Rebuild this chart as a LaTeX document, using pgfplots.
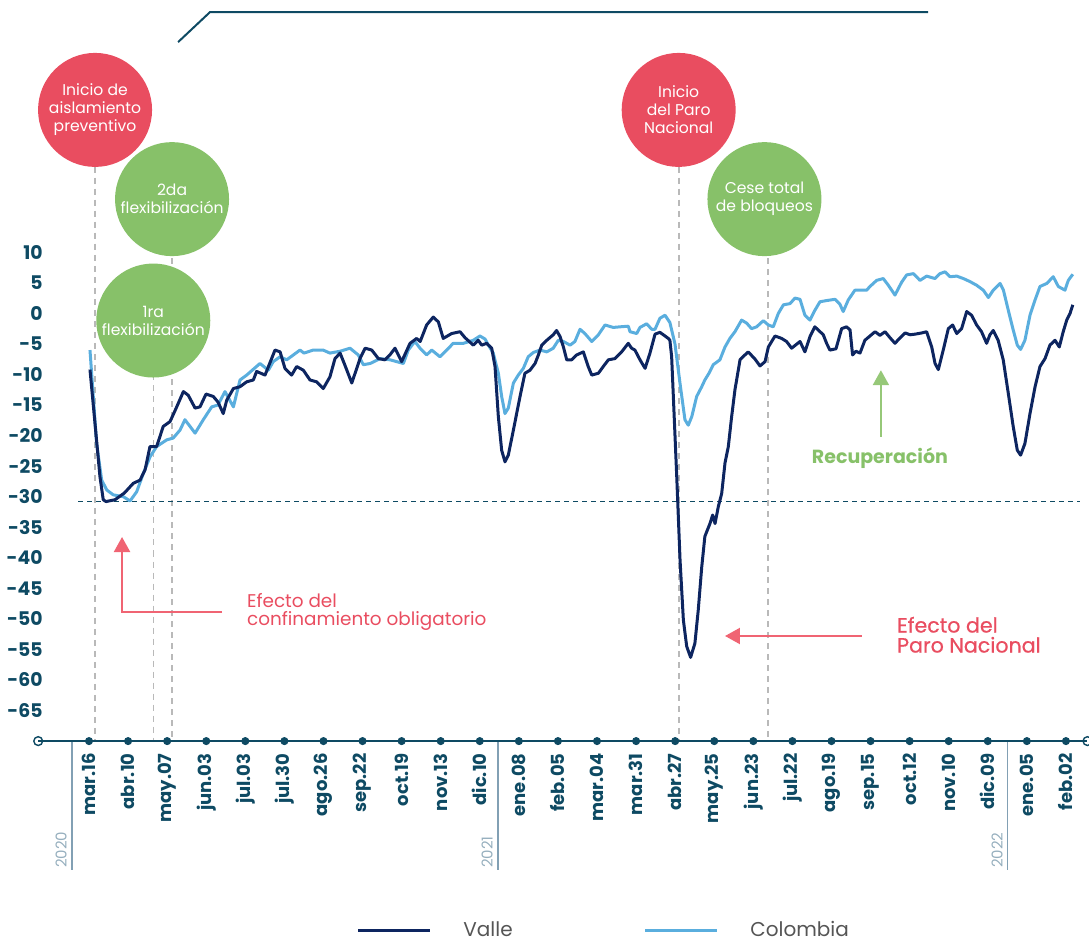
\documentclass[border=0pt]{standalone}
\usepackage{fontspec}
\setmainfont{Poppins}
\newfontfamily\popmed[FakeBold=0.6]{Poppins}
\usepackage{pgfplots}
\pgfplotsset{compat=1.18}
\usetikzlibrary{arrows.meta}
\definecolor{axisteal}{RGB}{14,74,99}
\definecolor{valle}{RGB}{13,37,96}
\definecolor{colombia}{RGB}{90,174,222}
\definecolor{redc}{RGB}{233,77,96}
\definecolor{greenc}{RGB}{135,193,105}
\definecolor{pinkarrow}{RGB}{240,100,115}
\definecolor{greenarrow}{RGB}{150,200,120}
\definecolor{vgray}{RGB}{185,185,185}
\definecolor{yearline}{RGB}{130,160,180}
\definecolor{yeartext}{RGB}{150,175,190}
\definecolor{legtext}{RGB}{85,85,85}
\begin{document}
\begin{tikzpicture}
\begin{axis}[
  scale only axis, width=524.6pt, height=366.6pt,
  xmin=-26, xmax=511, ymin=-70, ymax=50,
  clip=false,
  axis line style={draw=none},
  major tick length=0pt,
  xtick={0,20,...,500},
  xticklabels={mar.16,abr.10,may.07,jun.03,jul.03,jul.30,ago.26,sep.22,oct.19,nov.13,dic.10,ene.08,feb.05,mar.04,mar.31,abr.27,may.25,jun.23,jul.22,ago.19,sep.15,oct.12,nov.10,dic.09,ene.05,feb.02},
  ytick={-65,-60,...,10},
  xticklabel style={rotate=90, anchor=east, inner sep=0pt, font=\fontsize{9}{10}\selectfont\bfseries, text=axisteal},
  xticklabel shift=6pt,
  yticklabel style={anchor=east, inner sep=0pt, font=\fontsize{9.4}{10}\selectfont\bfseries, text=axisteal},
  yticklabel shift=-2.4pt,
  /pgf/number format/assume math mode=true,
]
% bounding box coordinates
\coordinate (BL) at (axis cs:-45.55,-103.04);
\coordinate (TR) at (axis cs:511.8,51.29);

% vertical dashed event lines
\addplot[vgray, line width=0.7pt, dash pattern=on 3pt off 2.5pt] coordinates {(3.1,33) (3.1,-70)};
\addplot[vgray, line width=0.7pt, dash pattern=on 3pt off 2.5pt] coordinates {(32.9,-1) (32.9,-70)};
\addplot[vgray, line width=0.7pt, dash pattern=on 3pt off 2.5pt] coordinates {(42.5,18) (42.5,-70)};
\addplot[vgray, line width=0.7pt, dash pattern=on 3pt off 2.5pt] coordinates {(302.0,33) (302.0,-70)};
\addplot[vgray, line width=0.7pt, dash pattern=on 3pt off 2.5pt] coordinates {(347.5,18) (347.5,-70)};

% horizontal reference line
\addplot[axisteal, line width=0.6pt, dash pattern=on 2.5pt off 2pt] coordinates {(-5.6,-30.8) (507.2,-30.8)};

% year separators
\addplot[yearline, line width=0.6pt] coordinates {(-8.7,-70) (-8.7,-91.1)};
\addplot[yearline, line width=0.6pt] coordinates {(209.3,-70) (209.3,-91.1)};
\addplot[yearline, line width=0.6pt] coordinates {(470.0,-70) (470.0,-91.1)};

% x axis line
\addplot[axisteal, line width=0.8pt] coordinates {(-26,-70) (511,-70)};
\addplot[only marks, mark=*, mark size=1.8pt, color=axisteal] coordinates {
(0,-70) (20,-70) (40,-70) (60,-70) (80,-70) (100,-70) (120,-70) (140,-70) (160,-70) (180,-70) (200,-70) (220,-70) (240,-70) (260,-70) (280,-70) (300,-70) (320,-70) (340,-70) (360,-70) (380,-70) (400,-70) (420,-70) (440,-70) (460,-70) (480,-70) (500,-70)};
\addplot[only marks, mark=o, mark size=2.2pt, color=axisteal, mark options={fill=white, line width=0.7pt}] coordinates {(-26,-70) (511,-70)};

% Colombia
\addplot[colombia, line width=1.5pt, line join=round] coordinates {
(0.5,-6.0) (3.9,-21.3) (6.5,-27.3) (9.1,-28.9) (12.4,-29.7) (17.6,-30.0) (21.0,-30.7) (24.4,-29.2) (27.8,-26.2) (31.2,-23.5) (34.6,-21.8) (39.8,-20.7) (43.1,-20.4) (46.6,-19.1) (49.1,-17.4) (54.3,-19.6) (58.5,-17.4) (62.8,-15.3) (66.0,-15.0) (69.6,-12.8) (73.9,-15.3) (77.3,-10.9) (80.7,-10.1) (87.5,-8.2) (91.8,-9.3) (94.3,-7.9) (97.8,-7.1) (101.2,-7.6) (108.0,-6.0) (110.0,-6.5) (114.8,-6.0) (119.8,-6.0) (123.3,-6.5) (128.5,-6.2) (133.6,-5.7) (137.8,-6.8) (140.4,-8.4) (143.9,-8.2) (149.0,-7.4) (154.1,-7.6) (157.5,-7.9) (160.9,-8.2) (163.4,-6.0) (166.8,-4.6) (169.4,-5.7) (172.8,-6.8) (175.4,-6.0) (179.6,-7.1) (183.1,-6.0) (186.4,-4.9) (191.6,-4.9) (196.7,-4.4) (200.1,-3.7) (202.7,-4.2) (204.4,-5.2) (206.9,-6.5) (209.5,-9.8) (211.2,-13.6) (212.9,-16.4) (214.6,-15.5) (217.2,-11.4) (219.7,-10.1) (222.3,-9.0) (224.8,-7.1) (227.4,-6.4) (230.8,-6.0) (234.3,-6.3) (237.6,-5.7) (240.2,-4.4) (242.8,-4.6) (246.2,-5.2) (248.7,-4.6) (251.3,-2.6) (253.8,-3.3) (257.3,-4.6) (260.7,-3.5) (264.1,-1.9) (268.3,-2.3) (271.8,-2.2) (276.0,-2.1) (276.9,-3.0) (280.3,-3.3) (282.0,-2.3) (285.4,-1.7) (288.0,-2.6) (289.7,-2.6) (292.2,-0.8) (294.8,-0.3) (297.3,-1.5) (299.9,-5.0) (302.5,-11.5) (305.0,-17.4) (306.7,-18.3) (308.5,-16.9) (311.0,-13.6) (313.6,-12.0) (315.2,-10.9) (317.3,-9.8) (319.5,-8.4) (322.9,-7.6) (325.5,-5.5) (328.0,-4.1) (330.6,-3.0) (334.0,-1.1) (336.6,-1.6) (339.1,-2.5) (341.7,-2.2) (345.1,-1.2) (347.7,-1.9) (350.2,-2.2) (352.8,0.0) (355.4,1.4) (358.8,1.6) (361.3,2.5) (363.9,2.3) (366.4,-0.3) (369.0,-1.1) (371.5,0.5) (374.1,1.9) (377.5,2.1) (381.8,2.3) (384.3,1.5) (386.0,0.3) (388.6,2.2) (392.0,3.8) (394.6,3.8) (398.0,3.8) (399.7,4.4) (403.1,5.4) (406.5,5.7) (409.1,4.6) (412.5,3.0) (415.9,5.1) (418.5,6.3) (421.9,6.5) (425.3,5.4) (428.7,6.1) (433.0,5.7) (435.5,6.5) (438.1,6.8) (440.7,6.0) (444.1,6.1) (447.5,5.7) (450.9,5.2) (454.3,4.6) (457.7,3.8) (460.3,2.6) (462.8,3.8) (466.3,4.9) (468.0,3.8) (470.5,0.5) (473.0,-2.7) (475.1,-5.2) (476.8,-5.9) (479.0,-4.4) (481.6,-0.3) (484.2,2.2) (486.7,4.4) (490.2,4.9) (493.5,6.0) (496.1,4.4) (499.5,3.8) (501.2,5.4) (503.5,6.4)};

% Valle
\addplot[valle, line width=1.5pt, line join=round] coordinates {
(0.5,-9.2) (5.6,-26.7) (7.3,-30.5) (8.7,-30.8) (13.3,-30.5) (18.1,-29.4) (22.7,-27.8) (26.1,-27.3) (28.7,-25.6) (31.2,-21.8) (34.6,-21.8) (38.0,-18.5) (41.5,-17.7) (44.9,-15.3) (48.3,-12.8) (50.8,-13.4) (54.3,-15.5) (56.8,-15.3) (59.9,-13.2) (63.6,-13.6) (66.0,-14.5) (68.7,-16.4) (70.5,-14.2) (73.9,-12.3) (77.3,-12.0) (80.7,-11.2) (84.1,-10.9) (85.8,-9.5) (90.1,-10.1) (95.2,-6.0) (97.8,-6.3) (100.3,-9.0) (103.7,-10.1) (106.3,-8.7) (109.7,-9.3) (113.1,-10.9) (116.5,-11.2) (119.9,-12.3) (123.3,-10.4) (125.9,-7.4) (128.5,-6.5) (131,-8.5) (134.5,-11.4) (138.7,-7.4) (141.3,-5.7) (144.7,-6.0) (148.1,-7.4) (151.5,-7.6) (154,-6.8) (156.6,-5.7) (160.0,-7.9) (164.3,-4.9) (167.7,-4.1) (169.5,-4.6) (172.8,-1.9) (176.2,-0.6) (178.8,-1.4) (181.3,-4.1) (185.6,-3.3) (189.9,-3.0) (192.5,-4.0) (196.7,-5.2) (199.2,-4.4) (201.0,-5.2) (203.5,-4.9) (206.1,-5.7) (207.8,-8.7) (209.5,-16.9) (211.2,-22.4) (212.9,-24.3) (214.6,-23.2) (217.2,-19.1) (220.6,-13.6) (223.1,-9.8) (225.7,-9.3) (228.3,-8.2) (230.0,-6.8) (231.7,-5.2) (234.3,-4.4) (237.6,-3.5) (239.3,-2.8) (241.1,-3.8) (242.8,-5.5) (244.5,-7.6) (247,-7.6) (249.6,-6.8) (253.0,-6.3) (255.5,-8.7) (257.3,-10.1) (260.7,-9.8) (263.2,-8.7) (265.8,-7.6) (269.2,-7.4) (272.6,-6.3) (276.0,-4.9) (277.7,-5.7) (279.4,-6.0) (282.0,-7.6) (284.6,-9.0) (287.1,-6.5) (289.7,-3.4) (292.2,-3.1) (294.8,-3.7) (296.5,-4.1) (297.3,-4.4) (298.2,-7.1) (299.0,-13.1) (300.8,-26.7) (302.5,-40.4) (304.2,-50.2) (305.9,-54.5) (307.9,-56.3) (310.1,-54.0) (311.8,-48.6) (313.6,-41.5) (315.2,-36.5) (317.8,-34.4) (319.2,-33.0) (320.4,-34.4) (322.1,-31.6) (323.8,-29.5) (325.5,-24.5) (327.2,-21.8) (328.9,-16.9) (330.6,-12.5) (333.2,-7.6) (335.7,-6.8) (337.4,-6.3) (340.9,-7.5) (343.4,-8.6) (346.0,-7.9) (347.7,-5.5) (349.4,-4.6) (351.1,-3.7) (354.5,-4.1) (357.0,-4.6) (359.6,-5.7) (363.9,-4.6) (366.4,-6.3) (369.0,-3.8) (371.5,-2.2) (375.8,-3.5) (377.5,-4.9) (379.2,-6.0) (382.3,-5.8) (385.2,-2.5) (387.7,-2.2) (389.5,-2.7) (390.8,-6.8) (392.5,-6.2) (394.6,-6.5) (397.1,-4.4) (402.3,-3.0) (404.8,-3.6) (407.4,-3.0) (410.0,-4.0) (412.5,-4.9) (415.1,-4.0) (417.7,-3.2) (420.2,-3.5) (422.8,-3.4) (426.2,-3.2) (428.7,-3.0) (431.3,-5.5) (433.0,-8.2) (434.7,-9.2) (437.2,-6.0) (439.8,-2.5) (442.0,-1.9) (444.1,-3.3) (446.6,-2.5) (449.2,0.3) (451.7,-0.3) (454.3,-1.9) (456.8,-3.0) (459.4,-4.9) (461.1,-3.5) (462.8,-2.8) (465.3,-4.4) (467.9,-7.6) (470.5,-13.1) (473.0,-18.5) (475.1,-22.4) (476.8,-23.2) (479.0,-21.3) (481.6,-16.4) (484.2,-12.0) (486.7,-8.7) (489.3,-7.4) (491.8,-5.2) (494.4,-4.4) (496.6,-5.5) (498.6,-3.0) (500.4,-1.1) (502.1,0.0) (503.5,1.4)};

% top decorative line
\draw[axisteal, line width=1pt] (axis cs:45.6,44.4) -- (axis cs:61.9,49.3) -- (axis cs:429.4,49.3);

% event circles
\fill[redc] (axis cs:3.1,33.3) circle[radius=28.5pt];
\node[text=white, align=center, font=\fontsize{7.8}{9}\selectfont] at (axis cs:3.1,33.3) {Inicio de\\aislamiento\\preventivo};
\fill[greenc] (axis cs:42.5,18.7) circle[radius=28.5pt];
\node[text=white, align=center, font=\fontsize{7.8}{9}\selectfont] at (axis cs:42.5,18.7) {2da\\flexibilización};
\fill[greenc] (axis cs:32.9,-1.17) circle[radius=28.5pt];
\node[text=white, align=center, font=\fontsize{7.8}{9}\selectfont] at (axis cs:32.9,-1.17) {1ra\\flexibilización};
\fill[redc] (axis cs:301.8,33.3) circle[radius=28.5pt];
\node[text=white, align=center, font=\fontsize{7.8}{9}\selectfont] at (axis cs:301.8,33.3) {Inicio\\del Paro\\Nacional};
\fill[greenc] (axis cs:345.7,18.7) circle[radius=28.5pt];
\node[text=white, align=center, font=\fontsize{7.8}{9}\selectfont] at (axis cs:345.7,18.7) {Cese total\\de bloqueos};

% annotations
\draw[pinkarrow, line width=1.1pt, -{Triangle[width=8pt,length=7.5pt]}] (axis cs:68.1,-48.9) -- (axis cs:16.9,-48.9) -- (axis cs:16.9,-36.6);
\node[anchor=west, align=left, text=redc, font=\fontsize{9.2}{9}\selectfont] at (axis cs:77.3,-48.9) {Efecto del\\confinamiento obligatorio};
\draw[pinkarrow, line width=1.1pt, -{Triangle[width=8pt,length=7.5pt]}] (axis cs:395.6,-52.8) -- (axis cs:325.5,-52.8);
\node[anchor=west, align=left, text=redc, font=\fontsize{10.3}{10}\selectfont\popmed] at (axis cs:410,-52.6) {Efecto del\\Paro Nacional};
\draw[greenarrow, line width=1.1pt, -{Triangle[width=8pt,length=7.5pt]}] (axis cs:405.3,-20.2) -- (axis cs:405.3,-9.3);
\node[text=greenc, font=\fontsize{9.5}{10}\selectfont\bfseries] at (axis cs:404.8,-23.7) {Recuperación};

% year labels
\node[rotate=90, anchor=west, inner sep=0pt, text=yeartext, font=\fontsize{7.5}{8}\selectfont] at (axis cs:-14.3,-90.8) {2020};
\node[rotate=90, anchor=west, inner sep=0pt, text=yeartext, font=\fontsize{7.5}{8}\selectfont] at (axis cs:203.7,-90.8) {2021};
\node[rotate=90, anchor=west, inner sep=0pt, text=yeartext, font=\fontsize{7.5}{8}\selectfont] at (axis cs:464.8,-90.8) {2022};

% legend
\draw[valle, line width=1.5pt] (axis cs:137.7,-101.0) -- (axis cs:174.5,-101.0);
\node[anchor=base west, inner sep=0pt, text=legtext, font=\fontsize{10}{11}\selectfont] at (axis cs:191.4,-102.0) {Valle};
\draw[colombia, line width=1.5pt] (axis cs:284.6,-101.0) -- (axis cs:321.4,-101.0);
\node[anchor=base west, inner sep=0pt, text=legtext, font=\fontsize{10}{11}\selectfont] at (axis cs:338.3,-102.0) {Colombia};
\end{axis}
\pgfresetboundingbox
\path (BL) rectangle (TR);
\end{tikzpicture}
\end{document}
